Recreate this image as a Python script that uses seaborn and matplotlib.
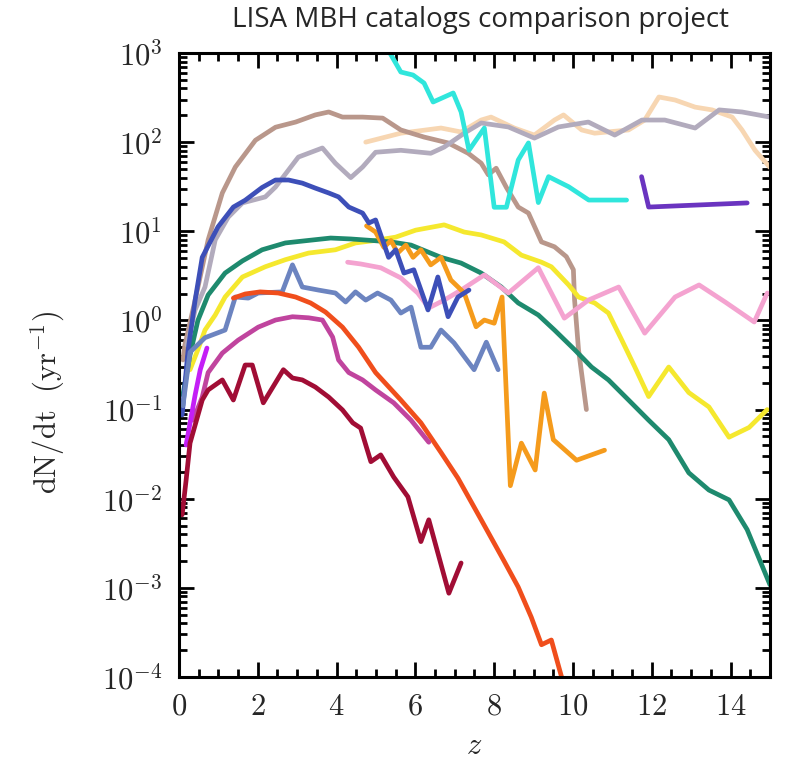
import numpy as np
import pandas as pd
import seaborn as sns
import matplotlib.pyplot as plt
from matplotlib.ticker import FixedLocator, FuncFormatter, LogLocator, MultipleLocator, NullFormatter

# --- data (z, dN/dt in 1/yr) ---
peach_z = [4.74, 5.63, 6.65, 7.16, 7.67, 7.92, 8.51, 9.02, 9.53, 9.76, 10.22, 10.55, 11.41, 11.82,
           12.18, 12.59, 13.1, 13.53, 14.04, 14.29, 14.62, 15.0]
peach_y = [100, 126, 144, 130, 177, 191, 144, 120, 177, 202, 137, 126, 137, 177,
           321, 297, 247, 230, 191, 137, 81, 52]

brown_z = [0.1, 0.15, 0.41, 0.74, 1.10, 1.43, 1.94, 2.45, 2.96, 3.46, 3.80, 4.15, 4.66, 5.17, 5.63,
           6.22, 6.83, 7.34, 7.67, 7.85, 8.05, 8.31, 8.61, 8.87, 9.2, 9.53, 9.83, 10.01, 10.04,
           10.14, 10.34]
brown_y = [0.36, 0.53, 1.69, 8.0, 26.9, 52.6, 105, 147, 168, 202, 218, 191, 191, 186, 137,
           114, 98, 75, 58, 43, 51, 31, 18.7, 16, 7.6, 6.7, 5.2, 3.7, 1.7,
           0.47, 0.1]

gray_z = [0.2, 0.41, 0.66, 0.92, 1.25, 1.61, 2.19, 2.45, 2.78, 3.03, 3.64, 3.97, 4.36, 4.66, 4.99,
          5.63, 6.39, 6.73, 7.24, 7.67, 8.36, 9.02, 9.63, 10.39, 11.06, 11.75, 12.33, 13.1,
          13.71, 14.29, 15.0]
gray_y = [0.53, 1.31, 2.37, 8.0, 14.4, 20.8, 24.3, 31.4, 48.7, 68, 86, 58, 40, 52.6, 77,
          81, 75, 88, 126, 164, 148, 111, 148, 168, 120, 177, 177, 144,
          230, 218, 191]

cyan_z = [5.25, 5.63, 5.94, 6.22, 6.45, 6.96, 7.16, 7.36, 7.75, 8.0, 8.31, 8.61, 8.87, 9.12,
          9.38, 9.89, 10.4, 11.36]
cyan_y = [1200, 612, 566, 460, 282, 356, 218, 81, 144, 18.6, 18.6, 63, 98, 21,
          41, 31.6, 22.4, 22.4]

purple_z = [11.74, 11.92, 14.42]
purple_y = [41, 18.7, 20.8]

yellow_z = [0.28, 0.48, 0.66, 0.92, 1.17, 1.61, 2.19, 2.7, 3.29, 3.97, 4.48, 4.99, 5.5, 6.01,
            6.73, 7.24, 7.67, 8.25, 8.69, 9.2, 9.45, 9.89, 10.14, 10.55, 10.9, 11.24, 11.57,
            11.92, 12.43, 12.94, 13.45, 13.96, 14.47, 14.93]
yellow_y = [0.28, 0.47, 0.78, 1.15, 1.83, 3.07, 4.0, 4.8, 5.7, 6.2, 7.4, 7.9, 8.6, 10.3,
            11.8, 9.8, 9.1, 7.6, 5.4, 4.5, 4.0, 2.5, 1.83, 1.57, 1.21, 0.60, 0.30,
            0.14, 0.30, 0.155, 0.107, 0.049, 0.063, 0.10]

green_z = [0.1, 0.28, 0.48, 0.74, 1.17, 1.61, 2.11, 2.7, 3.29, 3.85, 4.36, 4.87, 5.38, 5.89,
           6.65, 7.16, 7.67, 8.18, 8.61, 9.12, 9.53, 10.04, 10.47, 10.9, 11.41, 11.92, 12.43,
           12.94, 13.45, 13.96, 14.42, 15.0]
green_y = [0.146, 0.41, 1.0, 1.93, 3.4, 4.65, 6.2, 7.4, 7.9, 8.4, 8.2, 7.9, 7.6, 7.0,
           5.1, 4.4, 3.4, 2.37, 1.57, 1.15, 0.78, 0.47, 0.30, 0.215, 0.128, 0.076, 0.046,
           0.0195, 0.0125, 0.0097, 0.0045, 0.00108]

pink_z = [4.28, 4.61, 5.12, 5.63, 6.06, 6.34, 6.73, 7.16, 7.75, 8.36, 9.12, 9.78, 10.39, 11.16,
          11.82, 12.59, 13.2, 13.86, 14.6, 14.93]
pink_y = [4.5, 4.3, 3.9, 3.0, 2.03, 1.38, 1.69, 2.19, 3.24, 2.03, 3.9, 1.06, 1.69, 2.37,
          0.72, 1.83, 2.5, 1.61, 0.96, 2.03]

orange_z = [4.76, 4.99, 5.2, 5.38, 5.55, 5.76, 5.94, 6.14, 6.39, 6.65, 6.9, 7.24, 7.54, 7.75,
            8.0, 8.2, 8.41, 8.69, 9.04, 9.27, 9.5, 10.09, 10.8]
orange_y = [11.5, 9.8, 6.6, 7.9, 5.7, 7.0, 5.1, 6.2, 4.2, 5.1, 2.84, 2.03, 0.85, 1.01,
            0.93, 1.83, 0.014, 0.042, 0.021, 0.153, 0.046, 0.027, 0.035]

blue_z = [0.08, 0.23, 0.41, 0.59, 0.99, 1.38, 1.68, 2.11, 2.45, 2.78, 3.13, 3.46, 3.80, 4.05,
          4.31, 4.66, 4.82, 4.99, 5.17, 5.32, 5.5, 5.71, 5.96, 6.32, 6.57, 6.83, 7.08, 7.36]
blue_y = [0.087, 0.46, 1.69, 5.1, 11.2, 18.7, 22.3, 31, 37.6, 37.6, 34.7, 30.5, 26.9, 24.3,
          18.7, 16, 12.4, 13.4, 7.9, 5.1, 6.2, 3.4, 3.7, 1.31, 3.07, 1.1, 1.83, 2.19]

steel_z = [0.1, 0.28, 0.66, 1.17, 1.43, 1.76, 2.01, 2.62, 2.88, 3.13, 3.54, 3.97, 4.23, 4.48,
           4.74, 5.04, 5.38, 5.63, 5.89, 6.14, 6.39, 6.65, 6.98, 7.49, 7.8, 8.1]
steel_y = [0.11, 0.44, 0.64, 0.78, 1.83, 1.78, 2.03, 2.09, 4.2, 2.37, 2.19, 2.03, 1.61, 2.09,
           1.69, 2.03, 1.69, 1.21, 1.41, 0.50, 0.50, 0.78, 0.56, 0.28, 0.57, 0.28]

redorange_z = [1.38, 1.68, 2.06, 2.52, 2.96, 3.34, 3.72, 4.15, 4.56, 4.99, 5.63, 6.14, 6.65,
               7.08, 7.67, 8.25, 8.61, 8.94, 9.2, 9.45, 9.71, 9.78]
redorange_y = [1.78, 1.98, 2.09, 2.03, 1.83, 1.57, 1.24, 0.84, 0.50, 0.26, 0.128, 0.071, 0.033,
               0.017, 0.0058, 0.0020, 0.00102, 0.00047, 0.00023, 0.00026, 0.0001, 0.00007]

magenta_z = [0.36, 0.59, 0.74, 1.1, 1.5, 2.01, 2.45, 2.88, 3.29, 3.64, 3.9, 4.05, 4.31, 4.66,
             4.99, 5.45, 5.89, 6.34]
magenta_y = [0.076, 0.138, 0.26, 0.43, 0.60, 0.84, 1.01, 1.1, 1.07, 1.01, 0.65, 0.36, 0.26,
             0.215, 0.166, 0.119, 0.076, 0.043]

violet_z = [0.18, 0.41, 0.54, 0.71]
violet_y = [0.04, 0.146, 0.28, 0.49]

crimson_z = [0.08, 0.18, 0.28, 0.59, 0.74, 1.1, 1.38, 1.68, 1.86, 2.14, 2.45, 2.65, 2.88, 3.13,
             3.46, 3.8, 4.15, 4.41, 4.61, 4.87, 5.12, 5.45, 5.81, 6.14, 6.34, 6.85, 7.16]
crimson_y = [0.0066, 0.016, 0.042, 0.128, 0.166, 0.215, 0.128, 0.316, 0.316, 0.119, 0.20, 0.28,
             0.226, 0.215, 0.179, 0.138, 0.099, 0.071, 0.062, 0.026, 0.031, 0.0175, 0.0105,
             0.0033, 0.0058, 0.00087, 0.0019]

series = [
    ("peach", peach_z, peach_y),
    ("brown", brown_z, brown_y),
    ("gray", gray_z, gray_y),
    ("cyan", cyan_z, cyan_y),
    ("purple", purple_z, purple_y),
    ("yellow", yellow_z, yellow_y),
    ("green", green_z, green_y),
    ("pink", pink_z, pink_y),
    ("orange", orange_z, orange_y),
    ("blue", blue_z, blue_y),
    ("steel", steel_z, steel_y),
    ("redorange", redorange_z, redorange_y),
    ("magenta", magenta_z, magenta_y),
    ("violet", violet_z, violet_y),
    ("crimson", crimson_z, crimson_y),
]

colors = {
    "peach": "#f7d6b2", "brown": "#b9978b", "gray": "#b2abbd", "cyan": "#30e6dc",
    "purple": "#6a34c0", "yellow": "#f5e82e", "green": "#1e8a6e", "pink": "#f4a3d0",
    "orange": "#f59b1c", "blue": "#3d4fb8", "steel": "#6c84c0", "redorange": "#f04e1c",
    "magenta": "#c0449e", "violet": "#c41ef6", "crimson": "#a10d35",
}

df = pd.concat(
    [pd.DataFrame({"z": z, "rate": y, "model": name}) for name, z, y in series],
    ignore_index=True,
)

sns.set_style("ticks")
plt.rcParams["mathtext.fontset"] = "cm"
plt.rcParams["font.family"] = ["DejaVu Serif"]

fig = plt.figure(figsize=(7.93, 7.76), dpi=100)
ax = fig.add_axes([0.2257, 0.1276, 0.7453, 0.8041])

sns.lineplot(data=df, x="z", y="rate", hue="model", hue_order=[s[0] for s in series],
             palette=colors, estimator=None, sort=False, linewidth=3.4, legend=False, ax=ax)

ax.set_yscale("log")
ax.set_xlim(0, 15)
ax.set_ylim(1e-4, 1e3)

ax.xaxis.set_major_locator(MultipleLocator(2))
ax.xaxis.set_minor_locator(MultipleLocator(0.5))
ax.xaxis.set_major_formatter(FuncFormatter(lambda v, p: f"${int(round(v))}$"))
ax.yaxis.set_major_locator(FixedLocator([10.0 ** k for k in range(-4, 4)]))
ax.yaxis.set_minor_locator(LogLocator(base=10, subs=np.arange(2, 10), numticks=20))
ax.yaxis.set_major_formatter(FuncFormatter(lambda v, p: f"$10^{{{int(round(np.log10(v)))}}}$"))
ax.yaxis.set_minor_formatter(NullFormatter())

ax.tick_params(which="both", direction="in", top=True, right=True, width=2, color="black")
ax.tick_params(which="major", length=11, labelsize=22)
ax.tick_params(axis="x", which="major", pad=10)
ax.tick_params(axis="y", which="major", pad=12)
ax.tick_params(which="minor", length=6)
for sp in ax.spines.values():
    sp.set_linewidth(2.2)
    sp.set_color("black")

ax.set_xlabel(r"$z$", fontsize=22, labelpad=6)
ax.set_ylabel(r"$\mathrm{dN/dt}\ \ (\mathrm{yr}^{-1})$", fontsize=22)
ax.yaxis.set_label_coords(-0.19, 0.44)

fig.text(0.606, 0.974, "LISA MBH catalogs comparison project", family="Open Sans",
         fontsize=20, color="#262626", ha="center", va="center")

fig.savefig("out.png", dpi=100)
